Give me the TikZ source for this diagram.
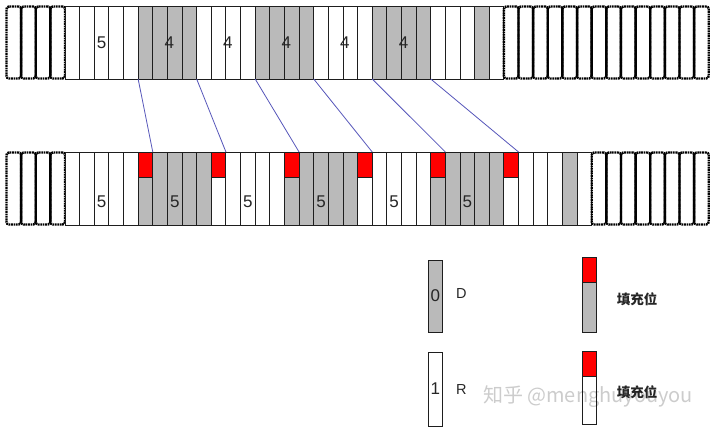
\documentclass[tikz,border=0pt]{standalone}
\usepackage{fontspec}
\usetikzlibrary{calc}
\setmainfont{Liberation Sans}
\newfontfamily\cjk{Noto Sans CJK SC}
\definecolor{cellgray}{RGB}{186,186,186}
\definecolor{linkblue}{RGB}{85,85,185}
\definecolor{cellred}{RGB}{255,0,0}
\definecolor{edge}{RGB}{30,30,30}
\begin{document}
\begin{tikzpicture}[x=1pt,y=-1pt,
  cellbox/.style={draw=edge,line width=0.9pt,inner sep=0pt,outer sep=0pt,anchor=north west,minimum width=14.63pt,minimum height=73pt},
  padbox/.style={draw=black,line width=2.4pt,dash pattern=on 1.7pt off 0.7pt,rounded corners=2.5pt,inner sep=0pt,outer sep=0pt,anchor=north west,minimum width=14.63pt,minimum height=72pt},
  redbox/.style={draw=edge,fill=cellred,line width=0.9pt,inner sep=0pt,outer sep=0pt,anchor=north west,minimum width=14.63pt,minimum height=25pt},
  numlabel/.style={font=\fontsize{17}{17}\selectfont,text=black!85,inner sep=0pt},
  leglabel/.style={font=\fontsize{14.5}{14.5}\selectfont,text=black!85,inner sep=0pt},
  cjklabel/.style={font=\cjk\bfseries\fontsize{13.5}{13.5}\selectfont,text=black!85,inner sep=0pt},
  link/.style={draw=linkblue,line width=0.8pt}]
\useasboundingbox (0,0) rectangle (720,430);
% ---------- top row ----------
\foreach \i in {0,...,3}{\node[padbox] (tl\i) at ({6.5+\i*14.63},6.5) {};}
\foreach \c [count=\i from 0] in {white,white,white,white,white,cellgray,cellgray,cellgray,cellgray,white,white,white,white,cellgray,cellgray,cellgray,cellgray,white,white,white,white,cellgray,cellgray,cellgray,cellgray,white,white,white,cellgray,white}
  {\node[cellbox,fill=\c] (t\i) at ({65+\i*14.63},6) {};}
\foreach \i in {0,...,13}{\node[padbox] (tr\i) at ({503.9+\i*14.63},6.5) {};}
% top labels
\node[numlabel] (tn0) at ($(t0.center)!0.5!(t4.center)$) {5};
\node[numlabel] (tn1) at ($(t5.center)!0.5!(t8.center)+(2,0)$) {4};
\node[numlabel] (tn2) at ($(t9.center)!0.5!(t12.center)+(2,0)$) {4};
\node[numlabel] (tn3) at ($(t13.center)!0.5!(t16.center)+(2,0)$) {4};
\node[numlabel] (tn4) at ($(t17.center)!0.5!(t20.center)+(2,0)$) {4};
\node[numlabel] (tn5) at ($(t21.center)!0.5!(t24.center)+(2,0)$) {4};
% ---------- bottom row ----------
\foreach \i in {0,...,3}{\node[padbox] (bl\i) at ({6.5+\i*14.63},152.5) {};}
\foreach \c [count=\i from 0] in {white,white,white,white,white,cellgray,cellgray,cellgray,cellgray,cellgray,white,white,white,white,white,cellgray,cellgray,cellgray,cellgray,cellgray,white,white,white,white,white,cellgray,cellgray,cellgray,cellgray,cellgray,white,white,white,white,cellgray,white}
  {\node[cellbox,fill=\c] (b\i) at ({65+\i*14.63},152) {};}
\foreach \i in {0,...,7}{\node[padbox] (br\i) at ({591.7+\i*14.63},152.5) {};}
\foreach \i in {5,10,15,20,25,30}{\node[redbox] (r\i) at (b\i.north west) {};}
% bottom labels
\node[numlabel] (bn0) at ($(b0.center)!0.5!(b4.center)+(0,13)$) {5};
\node[numlabel] (bn1) at ($(b5.center)!0.5!(b9.center)+(0,13)$) {5};
\node[numlabel] (bn2) at ($(b10.center)!0.5!(b14.center)+(0,13)$) {5};
\node[numlabel] (bn3) at ($(b15.center)!0.5!(b19.center)+(0,13)$) {5};
\node[numlabel] (bn4) at ($(b20.center)!0.5!(b24.center)+(0,13)$) {5};
\node[numlabel] (bn5) at ($(b25.center)!0.5!(b29.center)+(0,13)$) {5};
% ---------- connectors ----------
\draw[link] (t5.south west) -- (r5.north east);
\draw[link] (t9.south west) -- (r10.north east);
\draw[link] (t13.south west) -- (r15.north east);
\draw[link] (t17.south west) -- (r20.north east);
\draw[link] (t21.south west) -- (r25.north east);
\draw[link] (t25.south west) -- (r30.north east);
% ---------- legend ----------
\node[cellbox,fill=cellgray,minimum height=72pt] (lg0) at (428,260) {};
\node[numlabel] (lg0t) at (lg0.center) {0};
\node[leglabel,anchor=west] (lgD) at (456,294) {D};
\node[cellbox,fill=white,minimum height=74pt] (lg1) at (428,352) {};
\node[numlabel] (lg1t) at (lg1.center) {1};
\node[leglabel,anchor=west] (lgR) at (456,390) {R};
\node[cellbox,fill=cellgray,minimum height=75pt] (lg2) at (582,257) {};
\node[redbox] (lg2r) at (lg2.north west) {};
\node[cjklabel] (lg2t) at (637,299) {填充位};
\node[cellbox,fill=white,minimum height=73pt] (lg3) at (582,351) {};
\node[redbox] (lg3r) at (lg3.north west) {};
\node[cjklabel] (lg3t) at (637,392) {填充位};
% watermark (on top, as in the reference)
\node[font=\cjk\fontsize{20}{20}\selectfont,text=black,opacity=0.2,inner sep=0pt] (wm) at (588,397) {知乎 @menghuyouyou};
\end{tikzpicture}
\end{document}
